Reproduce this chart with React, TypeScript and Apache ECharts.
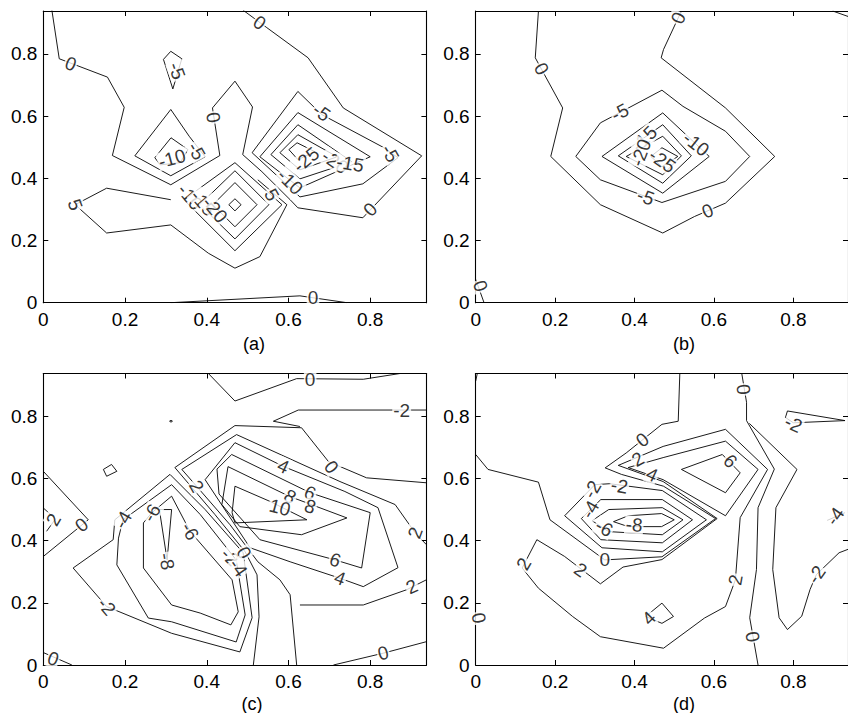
import React, { useEffect, useRef } from "react";
import * as echarts from "echarts";

type Pt = [number, number];
type Lbl = [number, number, string, number];

// ---------- axes ----------
const AXIS_MAX = 0.9375;
const TICK_STEP = 0.2;
const CAPTIONS = ["(a)", "(b)", "(c)", "(d)"];

// ---------- panel (a) contour polylines (data units) ----------
const aZero: Pt[] = [[0.021,0.94],[0.039,0.784],[0.157,0.725],[0.198,0.628],[0.169,0.473],[0.312,0.379],[0.432,0.473],[0.414,0.626],[0.469,0.712],[0.512,0.629],[0.488,0.476],[0.535,0.421],[0.604,0.331],[0.623,0.305],[0.782,0.273],[0.926,0.472],[0.734,0.626],[0.648,0.787],[0.547,0.884],[0.489,0.94]];
const aZeroBottom: Pt[] = [[0.312,0],[0.628,0.022],[0.743,0]];
const aM5Top: Pt[] = [[0.294,0.782],[0.312,0.808],[0.339,0.784],[0.317,0.687]];
const aM5Left: Pt[] = [[0.312,0.621],[0.357,0.535],[0.396,0.469],[0.312,0.408],[0.224,0.472]];
const aM10Left: Pt[] = [[0.273,0.466],[0.3125,0.53],[0.354,0.492],[0.335,0.45],[0.286,0.443]];
const aM25Low: Pt[] = [[0.454,0.315],[0.469,0.334],[0.484,0.315],[0.469,0.295]];
const aM20Low: Pt[] = [[0.415,0.315],[0.469,0.386],[0.523,0.315],[0.469,0.244]];
const aM15Low: Pt[] = [[0.383,0.315],[0.469,0.424],[0.552,0.315],[0.469,0.205]];
const aM10Low: Pt[] = [[0.344,0.331],[0.469,0.45],[0.584,0.315],[0.469,0.167]];
const aFive: Pt[] = [[0.525,0.395],[0.596,0.315],[0.53,0.148],[0.469,0.111],[0.404,0.159],[0.312,0.25],[0.155,0.224],[0.078,0.315],[0.155,0.368],[0.312,0.331]];
const aM5Right: Pt[] = [[0.623,0.679],[0.681,0.605],[0.831,0.5],[0.868,0.466],[0.782,0.382],[0.628,0.34],[0.511,0.482]];
const aM10Right: Pt[] = [[0.623,0.611],[0.8,0.469],[0.628,0.369],[0.53,0.469]];
const aM15Right: Pt[] = [[0.623,0.572],[0.755,0.453],[0.628,0.398],[0.557,0.476]];
const aM20Right: Pt[] = [[0.623,0.54],[0.719,0.469],[0.628,0.427],[0.579,0.482]];
const aM25Right: Pt[] = [[0.601,0.492],[0.621,0.514],[0.665,0.485],[0.623,0.46]];
const aLabels: Lbl[] = [
  [0.067,0.768,"0",-21],[0.416,0.595,"0",-80],[0.529,0.9,"0",-35],[0.8,0.3,"0",46],[0.66,0.017,"0",0],
  [0.327,0.745,"-5",-70],[0.375,0.487,"-5",-60],[0.315,0.463,"-10",15],
  [0.359,0.34,"-10",-50],[0.391,0.321,"-15",-50],[0.42,0.299,"-20",-50],
  [0.078,0.315,"5",-70],[0.559,0.347,"5",-60],
  [0.681,0.612,"-5",-35],[0.849,0.48,"-5",-60],[0.604,0.388,"-10",-45],
  [0.643,0.46,"-25",40],[0.714,0.453,"-20",-35],[0.751,0.447,"-15",-10],
];

// ---------- panel (b) ----------
const bZero: Pt[] = [[0.158,0.9375],[0.15,0.787],[0.219,0.626],[0.189,0.47],[0.314,0.315],[0.471,0.224],[0.551,0.277],[0.629,0.32],[0.753,0.47],[0.629,0.626],[0.467,0.787],[0.473,0.814],[0.518,0.9375]];
const bZeroCorner: Pt[] = [[0,0.075],[0.021,0]];
const bZeroTopRight: Pt[] = [[0.899,0.9375],[0.9375,0.92]];
const bM5: Pt[] = [[0.252,0.47],[0.314,0.578],[0.469,0.683],[0.522,0.631],[0.629,0.551],[0.69,0.47],[0.629,0.39],[0.469,0.322],[0.314,0.395]];
const bM10: Pt[] = [[0.318,0.47],[0.471,0.61],[0.588,0.47],[0.471,0.352]];
const bM15: Pt[] = [[0.359,0.472],[0.471,0.572],[0.543,0.472],[0.471,0.384]];
const bM20: Pt[] = [[0.379,0.47],[0.471,0.535],[0.518,0.472],[0.471,0.411]];
const bM25: Pt[] = [[0.441,0.47],[0.469,0.498],[0.509,0.47],[0.469,0.437]];
const bLabels: Lbl[] = [
  [0.166,0.752,"0",-60],[0.584,0.295,"0",23],[0.51,0.915,"0",65],[0.012,0.054,"0",-70],
  [0.363,0.612,"-5",27],[0.428,0.34,"-5",-20],[0.555,0.51,"-10",-38],
  [0.424,0.527,"-15",45],[0.416,0.482,"-20",70],[0.47,0.456,"-25",-35],
];

// ---------- panel (c) ----------
const cZeroTop: Pt[] = [[0.404,0.9375],[0.469,0.849],[0.62,0.921],[0.783,0.919],[0.873,0.9375]];
const cM2TopRight: Pt[] = [[0.9375,0.82],[0.624,0.82],[0.563,0.784],[0.628,0.767]];
const cZeroRight: Pt[] = [[0.9375,0.586],[0.791,0.602],[0.698,0.654],[0.632,0.763],[0.469,0.77],[0.322,0.635],[0.42,0.484],[0.494,0.364],[0.523,0.29],[0.528,0.155],[0.514,0]];
const cTwo: Pt[] = [[0.9375,0.387],[0.91,0.425],[0.861,0.516],[0.726,0.59],[0.473,0.741],[0.339,0.629],[0.375,0.575],[0.457,0.451],[0.525,0.332],[0.579,0.274],[0.604,0.226],[0.62,0]];
const cTwoLow: Pt[] = [[0.628,0.193],[0.783,0.193],[0.889,0.242],[0.9375,0.274]];
const cFour: Pt[] = [[0.469,0.715],[0.587,0.639],[0.738,0.558],[0.819,0.506],[0.868,0.313],[0.783,0.252],[0.726,0.279],[0.604,0.332],[0.506,0.377],[0.396,0.596]];
const cSix: Pt[] = [[0.461,0.677],[0.653,0.554],[0.8,0.49],[0.779,0.312],[0.714,0.338],[0.53,0.403],[0.43,0.55],[0.425,0.63]];
const cEight: Pt[] = [[0.452,0.638],[0.601,0.543],[0.743,0.473],[0.632,0.419],[0.481,0.445],[0.437,0.516]];
const cTen: Pt[] = [[0.469,0.575],[0.555,0.526],[0.645,0.467],[0.469,0.457],[0.462,0.49]];
const cM2Left: Pt[] = [[0.073,0.312],[0.171,0.403],[0.175,0.467],[0.31,0.613],[0.396,0.5],[0.489,0.361],[0.511,0.152],[0.481,0.042],[0.314,0.102],[0.155,0.188]];
const cM4Left: Pt[] = [[0.18,0.322],[0.184,0.408],[0.195,0.467],[0.314,0.58],[0.384,0.484],[0.472,0.338],[0.494,0.161],[0.472,0.074],[0.314,0.139],[0.257,0.151]];
const cM6Left: Pt[] = [[0.245,0.457],[0.265,0.489],[0.314,0.543],[0.359,0.43],[0.462,0.274],[0.477,0.171],[0.459,0.129],[0.384,0.167],[0.314,0.193],[0.245,0.312]];
const cM8Left: Pt[] = [[0.284,0.5],[0.314,0.5],[0.303,0.338]];
const cZeroEdge: Pt[] = [[0,0.623],[0.11,0.467],[0,0.349]];
const cTwoEdge: Pt[] = [[0,0.505],[0.03,0.47],[0.008,0.43]];
const cZeroCorner: Pt[] = [[0,0.04],[0.07,0]];
const cZeroBottom: Pt[] = [[0.71,0],[0.832,0.038],[0.9375,0.075]];
const cSmallLoop: Pt[] = [[0.147,0.629],[0.167,0.645],[0.18,0.623],[0.155,0.607]];
const cDot: Pt[] = [[0.309,0.784],[0.3125,0.787],[0.316,0.784],[0.3125,0.781]];
const cLabels: Lbl[] = [
  [0.653,0.917,"0",0],[0.877,0.817,"-2",0],[0.705,0.637,"0",-51],
  [0.587,0.639,"4",-25],[0.653,0.554,"6",-25],[0.604,0.542,"8",-30],[0.579,0.507,"10",-15],
  [0.653,0.51,"8",-20],[0.714,0.338,"6",-20],[0.726,0.279,"4",-20],
  [0.902,0.252,"2",25],[0.91,0.425,"2",70],[0.375,0.575,"2",-60],
  [0.457,0.348,"-2",-45],[0.491,0.361,"0",-60],[0.477,0.313,"-4",-55],
  [0.155,0.188,"-2",-50],[0.195,0.467,"-4",60],[0.265,0.489,"-6",60],[0.359,0.43,"-6",-60],[0.302,0.333,"-8",-80],
  [0.094,0.451,"0",40],[0.025,0.467,"2",60],[0.024,0.02,"0",-20],[0.832,0.038,"0",15],
];

// ---------- panel (d) ----------
const dZero: Pt[] = [[0,0.677],[0.031,0.629],[0.158,0.588],[0.187,0.467],[0.325,0.338],[0.469,0.348],[0.604,0.471],[0.473,0.575],[0.367,0.613],[0.326,0.634],[0.379,0.682],[0.469,0.774],[0.51,0.784],[0.514,0.9375]];
const dM2: Pt[] = [[0.224,0.48],[0.3,0.58],[0.337,0.583],[0.47,0.561],[0.581,0.467],[0.47,0.364],[0.318,0.377]];
const dM4: Pt[] = [[0.266,0.471],[0.315,0.532],[0.47,0.532],[0.546,0.467],[0.47,0.393],[0.315,0.403]];
const dM6: Pt[] = [[0.293,0.464],[0.335,0.5],[0.47,0.506],[0.522,0.467],[0.47,0.419],[0.335,0.429]];
const dM8: Pt[] = [[0.347,0.461],[0.384,0.48],[0.468,0.487],[0.5,0.467],[0.468,0.445],[0.384,0.445]];
const dTwo: Pt[] = [[0.666,0.474],[0.735,0.629],[0.629,0.758],[0.472,0.703],[0.359,0.642],[0.472,0.59],[0.608,0.471],[0.469,0.339],[0.371,0.315],[0.314,0.261],[0.224,0.349],[0.154,0.403],[0.117,0.312],[0.158,0.247],[0.244,0.156],[0.314,0.091],[0.473,0.054],[0.576,0.151],[0.629,0.188],[0.654,0.274]];
const dFour: Pt[] = [[0.384,0.635],[0.472,0.667],[0.629,0.72],[0.711,0.629],[0.629,0.48],[0.472,0.596]];
const dSix: Pt[] = [[0.518,0.629],[0.621,0.677],[0.666,0.618],[0.629,0.554]];
const dFourLow: Pt[] = [[0.428,0.156],[0.469,0.199],[0.498,0.156],[0.469,0.134]];
const dZeroRight: Pt[] = [[0.67,0.9375],[0.682,0.845],[0.682,0.786],[0.752,0.63],[0.711,0.506],[0.707,0.307],[0.69,0.152],[0.711,0]];
const dM2Right: Pt[] = [[0.689,0.777],[0.809,0.629],[0.756,0.506],[0.748,0.307],[0.764,0.152],[0.785,0.114],[0.821,0.157],[0.842,0.243],[0.858,0.291],[0.915,0.361],[0.9375,0.372]];
const dM2Wedge: Pt[] = [[0.93,0.786],[0.785,0.817],[0.78,0.796],[0.8,0.779],[0.93,0.786]];
const dM4Edge: Pt[] = [[0.885,0.465],[0.93,0.49]];
const dCorner: Pt[] = [[0.004,0.9375],[0,0.913]];
const dLabels: Lbl[] = [
  [0.42,0.724,"0",38],[0.325,0.338,"0",0],
  [0.293,0.565,"-2",60],[0.362,0.576,"-2",-10],[0.288,0.5,"-4",60],[0.323,0.441,"-6",-30],[0.399,0.451,"-8",-5],
  [0.408,0.662,"2",30],[0.444,0.612,"4",-25],[0.641,0.656,"6",-45],
  [0.121,0.325,"2",60],[0.264,0.306,"2",-35],[0.654,0.274,"2",80],[0.436,0.151,"4",45],
  [0.674,0.886,"0",-85],[0.697,0.091,"0",-80],[0.858,0.291,"-2",55],[0.8,0.775,"-2",-25],
  [0.905,0.478,"-4",55],[0.008,0.151,"0",-80],
];

// ---------- per-panel tables ----------
type Line = { pts: Pt[]; closed?: boolean };
const PANELS: { lines: Line[]; labels: Lbl[] }[] = [
  {
    lines: [
      { pts: aZero }, { pts: aZeroBottom }, { pts: aM5Top, closed: true }, { pts: aM5Left, closed: true },
      { pts: aM10Left, closed: true }, { pts: aM25Low, closed: true }, { pts: aM20Low, closed: true },
      { pts: aM15Low, closed: true }, { pts: aM10Low, closed: true }, { pts: aFive },
      { pts: aM5Right, closed: true }, { pts: aM10Right, closed: true }, { pts: aM15Right, closed: true },
      { pts: aM20Right, closed: true }, { pts: aM25Right, closed: true },
    ],
    labels: aLabels,
  },
  {
    lines: [
      { pts: bZero }, { pts: bZeroCorner }, { pts: bZeroTopRight }, { pts: bM5, closed: true },
      { pts: bM10, closed: true }, { pts: bM15, closed: true }, { pts: bM20, closed: true }, { pts: bM25, closed: true },
    ],
    labels: bLabels,
  },
  {
    lines: [
      { pts: cZeroTop }, { pts: cM2TopRight }, { pts: cZeroRight }, { pts: cTwo }, { pts: cTwoLow },
      { pts: cFour, closed: true }, { pts: cSix, closed: true }, { pts: cEight, closed: true }, { pts: cTen, closed: true },
      { pts: cM2Left, closed: true }, { pts: cM4Left, closed: true }, { pts: cM6Left, closed: true }, { pts: cM8Left, closed: true },
      { pts: cZeroEdge }, { pts: cTwoEdge }, { pts: cZeroCorner }, { pts: cZeroBottom },
      { pts: cSmallLoop, closed: true }, { pts: cDot, closed: true },
    ],
    labels: cLabels,
  },
  {
    lines: [
      { pts: dZero }, { pts: dM2, closed: true }, { pts: dM4, closed: true }, { pts: dM6, closed: true }, { pts: dM8, closed: true },
      { pts: dTwo, closed: true }, { pts: dFour, closed: true }, { pts: dSix, closed: true }, { pts: dFourLow, closed: true },
      { pts: dZeroRight }, { pts: dM2Right }, { pts: dM2Wedge }, { pts: dM4Edge }, { pts: dCorner },
    ],
    labels: dLabels,
  },
];

const FONT = '"Liberation Sans", Arial, Helvetica, sans-serif';
const GRID_BOXES = [
  { left: 43.3, top: 11, width: 383.1, height: 291.7 },
  { left: 475.7, top: 11, width: 381.6, height: 291.7 },
  { left: 43.3, top: 373.5, width: 383.1, height: 291.5 },
  { left: 475.7, top: 373.5, width: 381.6, height: 291.5 },
];
const CAPTION_POS = [[254, 344], [684, 344], [252, 704], [684, 704]];

function buildOption() {
  const grid = GRID_BOXES.map((g) => ({ ...g, show: false, containLabel: false }));
  const axisBase = (i: number) => ({
    gridIndex: i,
    type: "value" as const,
    min: 0,
    max: AXIS_MAX,
    interval: TICK_STEP,
    splitLine: { show: false },
    axisLine: { show: true, onZero: false, lineStyle: { color: "#000", width: 1.1 } },
    axisTick: { show: true, inside: true, length: 5, lineStyle: { color: "#000", width: 1 } },
  });
  const xAxis: any[] = [];
  const yAxis: any[] = [];
  GRID_BOXES.forEach((_, i) => {
    xAxis.push({
      ...axisBase(i),
      position: "bottom",
      axisLabel: { show: true, color: "#000", fontSize: 19, fontFamily: FONT, margin: 7, showMaxLabel: false },
    });
    xAxis.push({ ...axisBase(i), position: "top", axisLabel: { show: false } });
    yAxis.push({
      ...axisBase(i),
      position: "left",
      axisLabel: { show: true, color: "#000", fontSize: 19, fontFamily: FONT, margin: 6, showMaxLabel: false },
    });
    yAxis.push({ ...axisBase(i), position: "right", axisLabel: { show: false } });
  });

  const series: any[] = [];
  PANELS.forEach((panel, i) => {
    panel.lines.forEach((ln) => {
      const pts = ln.closed ? [...ln.pts, ln.pts[0]] : ln.pts;
      series.push({
        type: "line",
        xAxisIndex: 2 * i,
        yAxisIndex: 2 * i,
        data: pts,
        showSymbol: false,
        symbol: "none",
        silent: true,
        z: 2,
        clip: true,
        lineStyle: { color: "#000", width: 0.9 },
      });
    });
    series.push({
      type: "scatter",
      xAxisIndex: 2 * i,
      yAxisIndex: 2 * i,
      symbolSize: 1,
      itemStyle: { color: "rgba(0,0,0,0)" },
      silent: true,
      z: 5,
      label: {
        show: true,
        position: "inside",
        color: "#000",
        fontSize: 19,
        fontFamily: FONT,
        backgroundColor: "#fff",
        padding: [0, 1],
        lineHeight: 18,
      },
      data: panel.labels.map(([x, y, t, r]) => ({
        value: [x, y],
        label: { formatter: t, rotate: r },
      })),
    });
  });

  const graphic = CAPTIONS.map((t, i) => ({
    type: "text",
    x: CAPTION_POS[i][0],
    y: CAPTION_POS[i][1],
    style: {
      text: t,
      fill: "#000",
      font: `18px ${FONT}`,
      textAlign: "center",
      textVerticalAlign: "middle",
      align: "center",
      verticalAlign: "middle",
    },
  }));

  return {
    animation: false,
    backgroundColor: "#fff",
    grid,
    xAxis,
    yAxis,
    series,
    graphic,
  };
}

export default function App() {
  const ref = useRef<HTMLDivElement | null>(null);
  useEffect(() => {
    if (!ref.current) return;
    const chart = echarts.init(ref.current, undefined, { renderer: "svg" });
    chart.setOption(buildOption() as any);
    return () => chart.dispose();
  }, []);
  return (
    <div
      ref={ref}
      style={{ position: "fixed", left: 0, top: 0, width: 848, height: 713, background: "#fff" }}
    />
  );
}
